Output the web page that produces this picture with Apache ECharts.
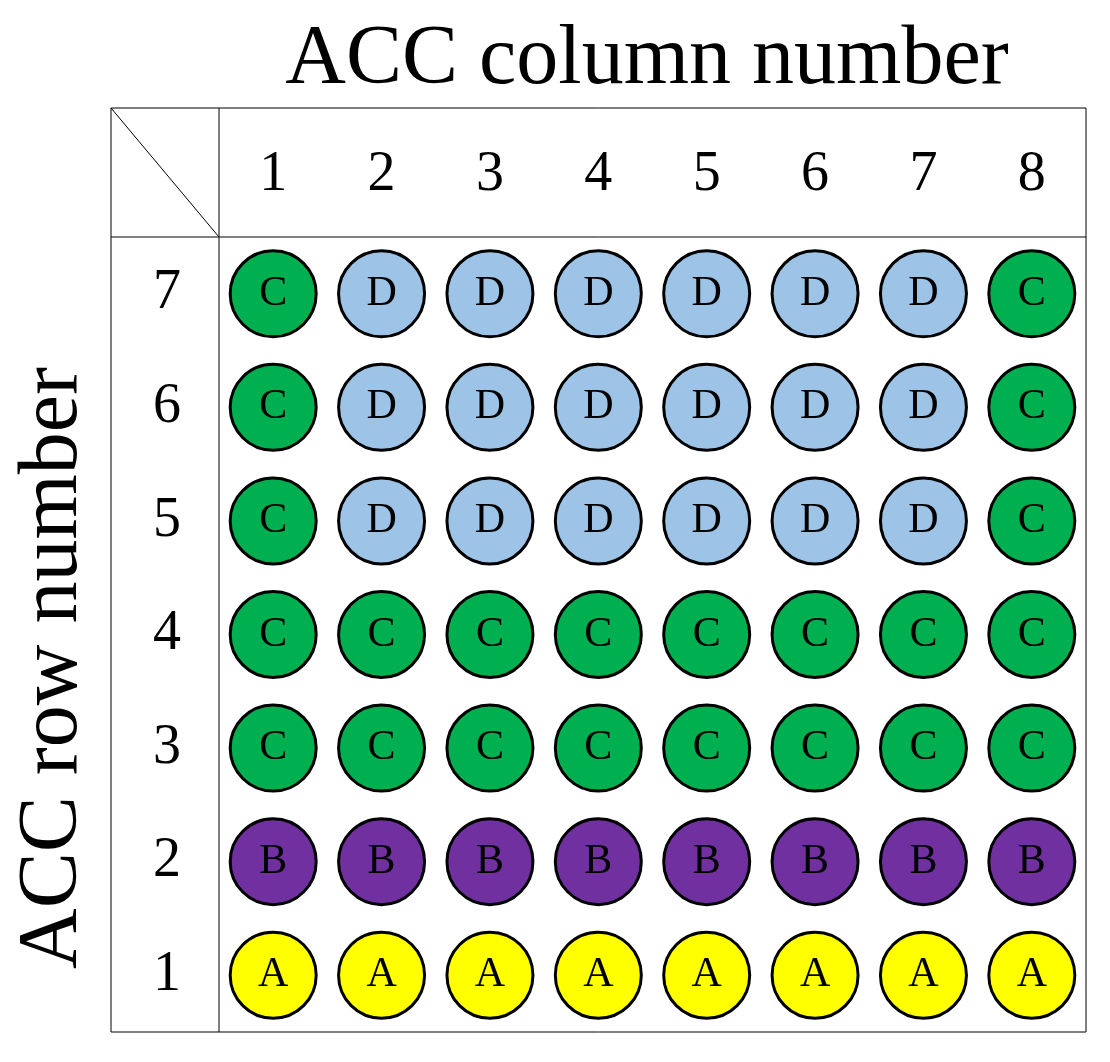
<!DOCTYPE html>
<html><head><meta charset="utf-8">
<script src="https://cdn.jsdelivr.net/npm/echarts@6/dist/echarts.min.js"></script>
<style>html,body{margin:0;padding:0;background:#fff}#c{width:1110px;height:1062px}</style>
</head><body><div id="c"></div>
<script>
const columns = ['1','2','3','4','5','6','7','8'];
const rows = ['1','2','3','4','5','6','7'];
const rowTypes = [
  'AAAAAAAA',
  'BBBBBBBB',
  'CCCCCCCC',
  'CCCCCCCC',
  'CDDDDDDC',
  'CDDDDDDC',
  'CDDDDDDC'
];
const typeColors = {A:'#ffff00', B:'#7030a0', C:'#00b050', D:'#9dc3e6'};

const data = [];
rowTypes.forEach((r, yi) => r.split('').forEach((t, xi) => {
  data.push({value:[xi, yi], name:t, itemStyle:{color:typeColors[t]}});
}));

const L=111, T=108, R=1086, B=1032, HL=219, HT=237;
const font = 'Liberation Serif';
const chart = echarts.init(document.getElementById('c'));
chart.setOption({
  animation:false,
  title:{text:'ACC column number', left:642, top:14, textAlign:'center',
    textStyle:{fontFamily:font, fontSize:84, fontWeight:'normal', color:'#000'}},
  grid:{left:HL, top:HT, right:1110-R, bottom:1062-B, show:false},
  xAxis:{type:'category', data:columns, position:'top', axisLine:{show:false}, axisTick:{show:false},
    axisLabel:{margin:34, fontFamily:font, fontSize:56, color:'#000'}},
  yAxis:{type:'category', data:rows, axisLine:{show:false}, axisTick:{show:false},
    axisLabel:{margin:38, fontFamily:font, fontSize:56, color:'#000'}},
  graphic:[
    {type:'rect', shape:{x:L, y:T, width:R-L, height:B-T}, style:{fill:'none', stroke:'#000', lineWidth:1}},
    {type:'line', shape:{x1:L, y1:HT, x2:R, y2:HT}, style:{stroke:'#000', lineWidth:1}},
    {type:'line', shape:{x1:HL, y1:T, x2:HL, y2:B}, style:{stroke:'#000', lineWidth:1}},
    {type:'line', shape:{x1:L, y1:T, x2:HL, y2:HT}, style:{stroke:'#000', lineWidth:1}},
    {type:'text', rotation:Math.PI/2, x:54, y:668, style:{text:'ACC row number', fontFamily:font, fontSize:84, fill:'#000', align:'center', verticalAlign:'middle'}}
  ],
  series:[{type:'scatter', symbol:'circle', symbolSize:86, data:data,
    itemStyle:{borderColor:'#000', borderWidth:3, opacity:1},
    label:{show:true, position:'inside', formatter:p=>p.name, fontFamily:font, fontSize:42, color:'#000'}}]
});
</script></body></html>
